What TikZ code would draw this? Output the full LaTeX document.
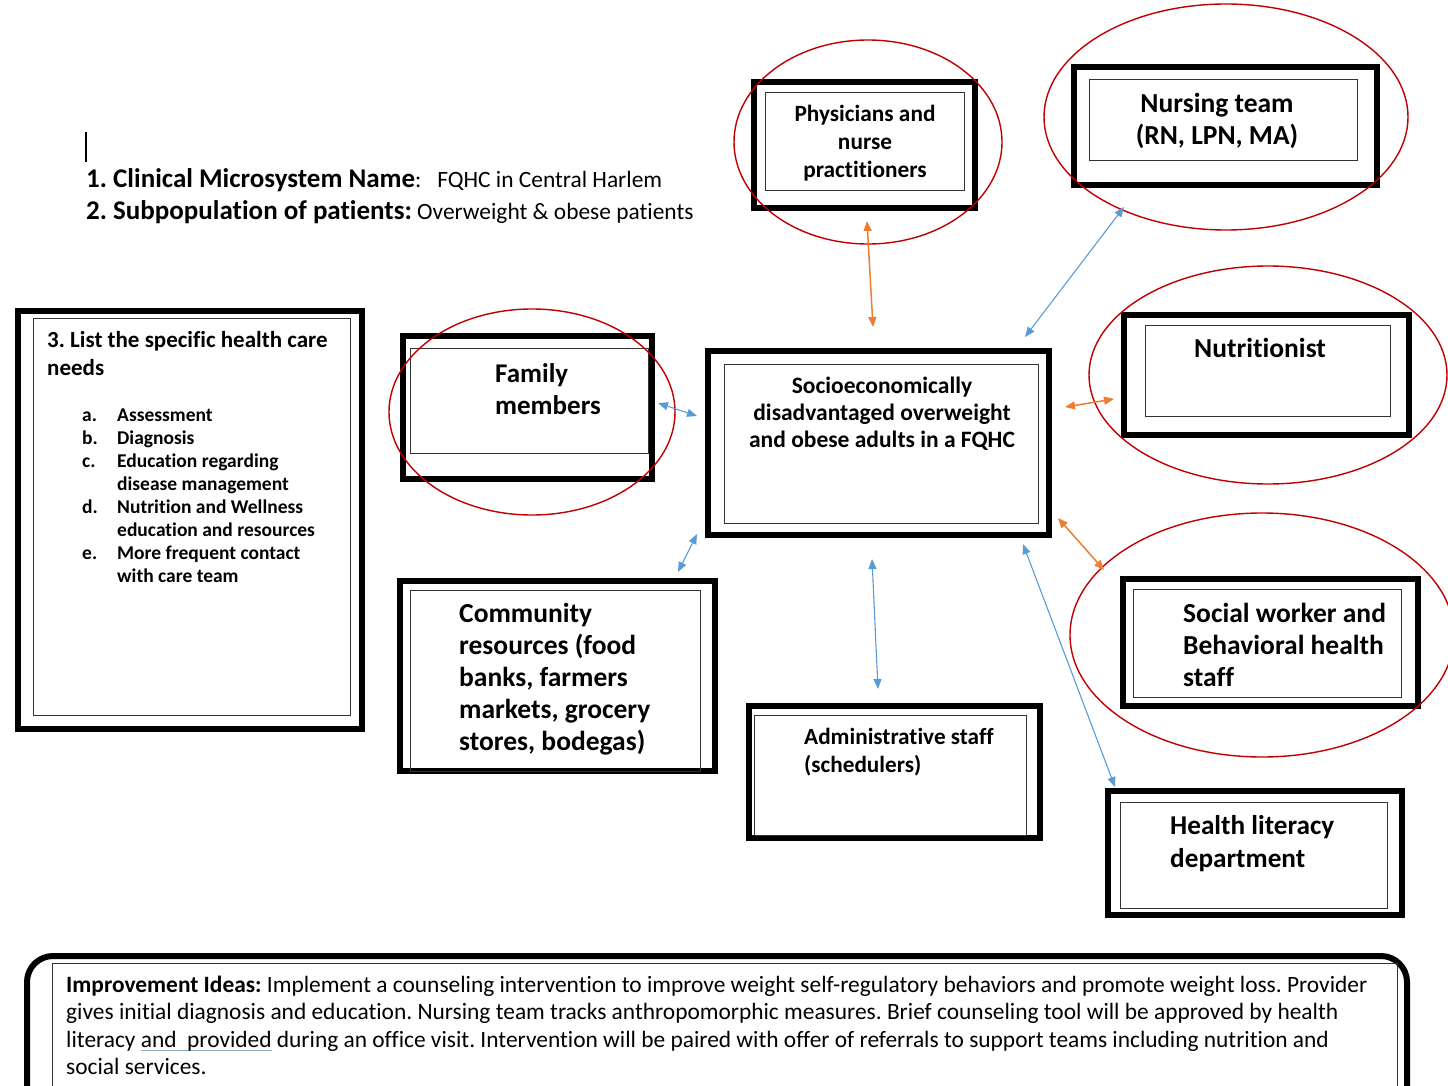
\documentclass[tikz,border=0pt]{standalone}
\usepackage{fontspec}
\setmainfont{Carlito}[Ligatures=NoCommon]
\usetikzlibrary{arrows.meta,calc,shapes.geometric}
\definecolor{ringred}{HTML}{C00000}
\definecolor{linkblue}{HTML}{5B9BD5}
\definecolor{linkorange}{HTML}{ED7D31}
\definecolor{ulblue}{HTML}{8EA9C8}
% underline drawn in a soft blue under a word group
\newcommand\softul[1]{\setbox0\hbox{#1}\rlap{\color{ulblue}\rule[-3.5pt]{\wd0}{1pt}}#1}
\newcommand\fs[2]{\fontsize{#1}{#2}\selectfont}
\frenchspacing
\begin{document}
% multi-line labels are anchored at the baseline of their last line
\begin{tikzpicture}[x=1pt,y=-1pt,
  frame/.style={draw=black, line width=6pt, inner sep=0pt, fill=white},
  panel/.style={draw=black!80, line width=1pt, inner sep=0pt},
  ring/.style={draw=ringred, line width=1.4pt, ellipse, inner sep=0pt},
  txt/.style={inner sep=0pt, align=left, anchor=base west},
  ctxt/.style={inner sep=0pt, align=center, anchor=base},
  tie/.style={{Triangle[length=10pt,width=8pt]}-{Triangle[length=10pt,width=8pt]}},
  bluetie/.style={tie, draw=linkblue, line width=1.1pt},
  orangetie/.style={tie, draw=linkorange, line width=1.5pt}]
\useasboundingbox (0,0) rectangle (1448,1086);

% header
\draw[line width=1.5pt] (86,132) -- (86,162);
\node[txt] (title) at (86,188) {{\fs{27}{30}\bfseries 1. Clinical Microsystem Name}{\fs{23.4}{26}:~~~FQHC in Central Harlem}};
\node[txt] (subpop) at (86,220) {{\fs{27}{30}\bfseries 2. Subpopulation of patients:}{\fs{23.4}{26} Overweight \& obese patients}};

% health care needs
\node[frame, minimum width=344pt, minimum height=418pt] (needs) at (190,520) {};
\node[panel, minimum width=317pt, minimum height=397pt] (needsin) at (191.5,516.5) {};
\node[txt, font=\fs{23}{28}\bfseries] (needshead) at (47,375) {3. List the specific health care\\needs};
\node[txt, font=\fs{19.5}{23}\bfseries] (needslist) at (82,582)
 {\makebox[35pt][l]{a.}Assessment\\
  \makebox[35pt][l]{b.}Diagnosis\\
  \makebox[35pt][l]{c.}Education regarding\\
  \hspace*{35pt}disease management\\
  \makebox[35pt][l]{d.}Nutrition and Wellness\\
  \hspace*{35pt}education and resources\\
  \makebox[35pt][l]{e.}More frequent contact\\
  \hspace*{35pt}with care team};

% family
\node[frame, minimum width=249pt, minimum height=143pt] (family) at (527.5,407.5) {};
\node[panel, minimum width=238pt, minimum height=105pt] (familyin) at (529,400.5) {};
\node[txt, font=\fs{27}{32}\bfseries] (familytxt) at (495,414) {Family\\members};

% central population
\node[frame, minimum width=341pt, minimum height=184pt] (central) at (878.5,443) {};
\node[panel, minimum width=314pt, minimum height=159pt] (centralin) at (881,443.5) {};
\node[ctxt, font=\fs{23.5}{27}\bfseries] (centraltxt) at (882,447) {Socioeconomically\\disadvantaged overweight\\and obese adults in a FQHC};

% physicians
\node[frame, minimum width=221pt, minimum height=126pt] (phys) at (864.5,145) {};
\node[panel, minimum width=199pt, minimum height=98pt] (physin) at (864.5,142) {};
\node[ctxt, font=\fs{23.3}{28}\bfseries] (phystxt) at (865,178) {Physicians and\\nurse\\practitioners};

% nursing
\node[frame, minimum width=303pt, minimum height=118pt] (nursing) at (1225.5,126) {};
\node[panel, minimum width=268pt, minimum height=81pt] (nursingin) at (1223,120.5) {};
\node[ctxt, font=\fs{27.5}{32}\bfseries] (nursingtxt) at (1217,145) {Nursing team\\(RN, LPN, MA)};

% nutritionist
\node[frame, minimum width=285pt, minimum height=120pt] (nutri) at (1266.5,375) {};
\node[panel, minimum width=245pt, minimum height=91pt] (nutriin) at (1267.5,370.5) {};
\node[ctxt, font=\fs{27.5}{32}\bfseries] (nutritxt) at (1260,357) {Nutritionist};

% social work
\node[frame, minimum width=295pt, minimum height=127pt] (social) at (1270.5,642.5) {};
\node[panel, minimum width=268pt, minimum height=108pt] (socialin) at (1267,643) {};
\node[txt, font=\fs{27.5}{32}\bfseries] (socialtxt) at (1183,686) {Social worker and\\Behavioral health\\staff};

% health literacy
\node[frame, minimum width=294pt, minimum height=124pt] (health) at (1255,853) {};
\node[panel, minimum width=267pt, minimum height=106pt] (healthin) at (1253.5,855) {};
\node[txt, font=\fs{27.2}{33}\bfseries] (healthtxt) at (1170,867) {Health literacy\\department};

% community resources
\node[frame, minimum width=315pt, minimum height=190pt] (community) at (557.5,676) {};
\node[panel, minimum width=290pt, minimum height=181pt] (communityin) at (555,680.5) {};
\node[txt, font=\fs{27.5}{32}\bfseries] (communitytxt) at (459,750) {Community\\resources (food\\banks, farmers\\markets, grocery\\stores, bodegas)};

% administrative staff
\node[frame, minimum width=291pt, minimum height=132pt] (admin) at (894.5,772) {};
\node[panel, minimum width=272pt, minimum height=120pt] (adminin) at (890,775) {};
\node[txt, font=\fs{23.2}{28}\bfseries] (admintxt) at (804,772) {Administrative staff\\(schedulers)};

% improvement ideas
\draw[line width=6pt, rounded corners=26pt] (27,1100) -- (27,956) -- (1407,956) -- (1407,1100);
\node[panel, minimum width=1345pt, minimum height=135pt, anchor=north west] (ideasin) at (52,963) {};
\node[txt, font=\fs{23.4}{27.5}] (ideastxt) at (66,1074.5)
 {\textbf{Improvement Ideas:} Implement a counseling intervention to improve weight self-regulatory behaviors and promote weight loss. Provider\\
  gives initial diagnosis and education. Nursing team tracks anthropomorphic measures. Brief counseling tool will be approved by health\\
  literacy \softul{and~~provided} during an office visit. Intervention will be paired with offer of referrals to support teams including nutrition and\\
  social services.};

% red rings
\node[ring, minimum width=286pt, minimum height=206pt] (familyring) at (532,412) {};
\node[ring, minimum width=268pt, minimum height=204pt] (physring) at (868,142) {};
\node[ring, minimum width=364pt, minimum height=226pt] (nursingring) at (1226,117) {};
\node[ring, minimum width=358pt, minimum height=218pt] (nutriring) at (1268,375) {};
\node[ring, minimum width=384pt, minimum height=244pt] (socialring) at (1262,635) {};

% links
\draw[orangetie] ($(phys.south)+(2.5,10)$) -- ($(central.north)+(-5.5,-21)$);
\draw[bluetie] ($(nursing.south west)+(53,19)$) -- ($(central.north east)+(-27,-11)$);
\draw[bluetie] ($(family.east)+(3,-4.5)$) -- ($(central.west)+(-8,-27)$);
\draw[orangetie] ($(central.east)+(13,-36)$) -- ($(nutri.west)+(-7,24)$);
\draw[orangetie] ($(central.south east)+(6,-20)$) -- ($(social.north west)+(-16,-6)$);
\draw[bluetie] ($(central.south east)+(-29,6)$) -- ($(health.north west)+(10,-1)$);
\draw[bluetie] ($(central.south)+(-6.5,21)$) -- ($(admin.north)+(-16.5,-14)$);
\draw[bluetie] ($(central.south west)+(-8,-4)$) -- ($(community.north east)+(-40,-6)$);
\end{tikzpicture}
\end{document}
